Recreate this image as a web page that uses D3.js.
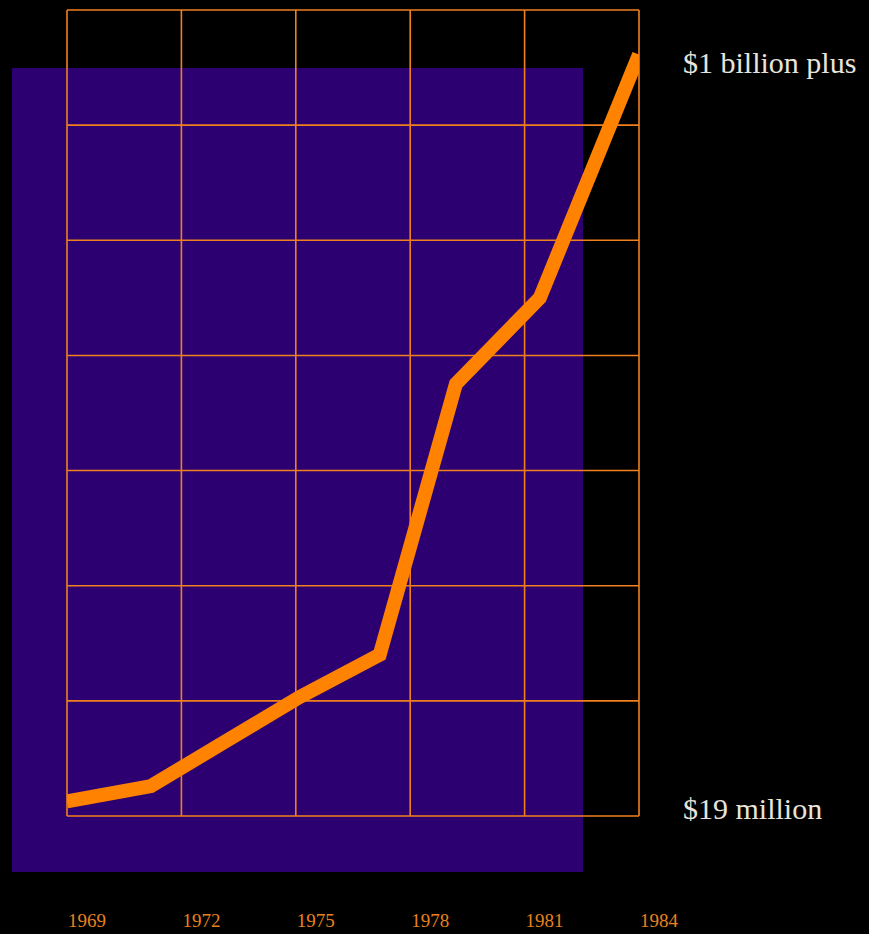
<!DOCTYPE html>
<html><head><meta charset="utf-8">
<script src="https://cdn.jsdelivr.net/npm/d3@7"></script>
<style>html,body{margin:0;padding:0;background:#000;}svg{display:block;}</style>
</head><body>
<script>
// Data (value in $ millions)
const years  = [1969, 1971.2, 1975.1, 1977.2, 1979.2, 1981.4, 1984];
const values = [19, 39, 155, 210, 563, 675, 992];
const yearTicks = [1969, 1972, 1975, 1978, 1981, 1984];
const valueTicks = [0, 150, 300, 450, 600, 750, 900, 1050];
const endLabels = [{v: 991, text: "$1 billion plus"}, {v: 19, text: "$19 million"}];

const W = 869, H = 934;
const svg = d3.select("body").append("svg").attr("width", W).attr("height", H);
svg.append("rect").attr("width", W).attr("height", H).attr("fill", "#000");

const x = d3.scaleLinear().domain([1969, 1984]).range([67, 639]);
const y = d3.scaleLinear().domain([0, 1050]).range([816, 10]);

// purple backdrop panel
svg.append("rect").attr("x", 12).attr("y", 68).attr("width", 571).attr("height", 804).attr("fill", "#2c0070");

const grid = svg.append("g").attr("stroke", "#f0801e").attr("stroke-width", 1.6).attr("fill", "none");
grid.selectAll("line.v").data(yearTicks).join("line").attr("class", "v")
  .attr("x1", d => x(d)).attr("x2", d => x(d)).attr("y1", y(1050)).attr("y2", y(0));
grid.selectAll("line.h").data(valueTicks).join("line").attr("class", "h")
  .attr("x1", x(1969)).attr("x2", x(1984)).attr("y1", d => y(d)).attr("y2", d => y(d));

svg.append("clipPath").attr("id", "c").append("rect")
  .attr("x", x(1969)).attr("y", 0).attr("width", x(1984) - x(1969)).attr("height", H);

const pts = years.map((t, i) => [t, values[i]]);
svg.append("path").datum(pts)
  .attr("clip-path", "url(#c)")
  .attr("d", d3.line().x(d => x(d[0])).y(d => y(d[1])))
  .attr("fill", "none").attr("stroke", "#ff8200").attr("stroke-width", 14)
  .attr("stroke-linejoin", "miter").attr("stroke-linecap", "butt");

svg.selectAll("text.yr").data(yearTicks).join("text").attr("class", "yr")
  .attr("x", d => x(d) + 1).attr("y", 927)
  .attr("font-family", "'Liberation Serif', 'Times New Roman', serif")
  .attr("font-size", 19).attr("fill", "#e8821e")
  .text(d => d);

svg.selectAll("text.lab").data(endLabels).join("text").attr("class", "lab")
  .attr("x", 683).attr("y", d => y(d.v) + 18)
  .attr("font-family", "'Liberation Serif', 'Times New Roman', serif")
  .attr("font-size", 30).attr("fill", "#e8e4dc")
  .text(d => d.text);
</script>
</body></html>
